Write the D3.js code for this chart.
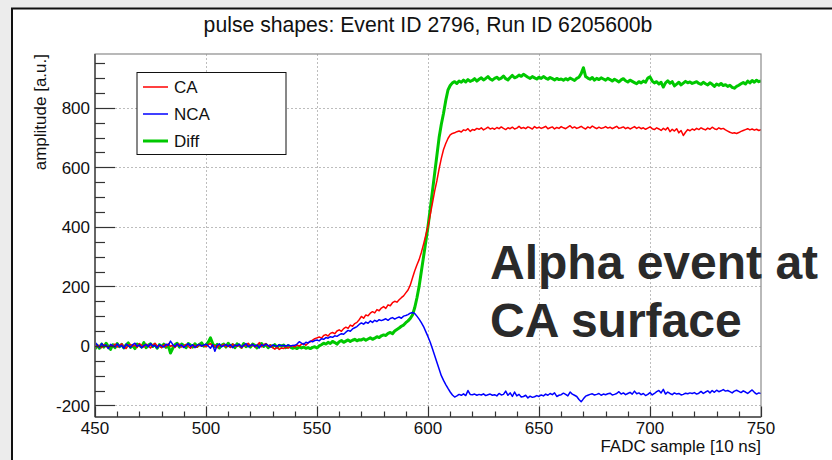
<!DOCTYPE html>
<html>
<head>
<meta charset="utf-8">
<script src="https://cdnjs.cloudflare.com/ajax/libs/d3/7.8.5/d3.min.js"></script>
<style>
  body { margin: 0; background: #ececec; }
  svg { display: block; font-family: "Liberation Sans", Arial, sans-serif; }
</style>
</head>
<body>
<div id="chart"></div>
<script>
// sample index 450..750 (one FADC sample each)
let firstSample = 450;

let caValues = [
  5, -3, 2, -6, 4, 0, -8, 3, -2, 6,
  -4, 1, 7, -3, -9, 2, 5, -1, 3, -5,
  8, 2, -4, 6, 0, -7, 3, 9, -2, 1,
  -6, 4, -3, 7, -1, 2, -5, 3, 6, -4,
  0, 5, -2, -8, 3, 1, -4, 6, -1, 2,
  -3, 4, 8, -2, 1, -6, 3, 0, 5, -3,
  2, -5, 6, 1, -2, 4, -7, 3, 0, 9,
  -1, 5, -4, 2, 11, -3, 4, 7, -2, 3,
  -6, -11, -4, -12, -7, -9, -3, -8, -2, 1,
  -4, 3, -1, 5, 8, 2, 10, 14, 19, 24,
  27, 30, 26, 35, 38, 33, 42, 45, 41, 50,
  54, 49, 58, 63, 59, 70, 66, 75, 79, 88,
  99, 93, 104, 101, 110, 115, 111, 122, 118, 127,
  132, 126, 138, 135, 145, 150, 147, 155, 162, 168,
  178, 188, 204, 228, 252, 272, 290, 314, 342, 372,
  401, 440, 480, 520, 555, 595, 630, 660, 680, 697,
  709, 714, 716, 720, 722, 719, 726, 724, 730, 721,
  727, 725, 731, 728, 733, 726, 730, 735, 729, 732,
  728, 734, 730, 736, 731, 727, 733, 730, 735, 729,
  732, 738, 731, 734, 730, 736, 733, 729, 737, 732,
  735, 731, 734, 738, 730, 733, 736, 729, 734, 731,
  737, 733, 730, 735, 740, 732, 736, 731, 734, 738,
  733, 729, 736, 732, 739, 734, 730, 735, 731, 733,
  737, 732, 735, 730, 734, 738, 731, 733, 736, 730,
  734, 729, 733, 737, 731, 735, 730, 733, 728, 732,
  736, 730, 727, 733, 729, 724, 731, 726, 734, 720,
  728, 722, 730, 716, 724, 707, 718, 727, 723, 729,
  725, 731, 727, 733, 729, 726, 732, 728, 735, 730,
  727, 733, 729, 731, 726, 722, 718, 715, 716, 714,
  717, 721, 724, 727, 730, 726, 729, 725, 728, 724,
  727
];

let ncaValues = [
  12, 4, -6, 8, -2, 3, -9, 5, 1, -4,
  7, -3, 2, -8, 6, 0, -5, 4, 9, -2,
  3, -6, 1, 5, -3, 8, -1, 2, -7, 4,
  0, -4, 6, 2, 16, 5, -3, 7, -2, 3,
  -5, 1, 8, -2, 4, -6, 2, 5, -1, 3,
  6, 0, -8, 4, -18, 2, 7, -3, 1, 5,
  -2, 4, -6, 3, 0, 6, -4, 2, 8, -3,
  1, 5, -2, 3, -7, 4, 0, 6, 2, -4,
  3, 1, -2, 4, 0, 2, -1, 3, 0, 1,
  2, 6, 14, 9, 5, 12, 10, 16, 14, 18,
  20, 17, 24, 22, 28, 26, 31, 29, 34, 32,
  37, 41, 39, 46, 52, 49, 57, 61, 65, 72,
  77, 73, 80, 76, 84, 79, 86, 82, 88, 85,
  88, 91, 86, 92, 95, 90, 94, 97, 93, 100,
  102, 105, 110, 112, 109, 100, 90, 78, 65, 48,
  31, 12, -10, -32, -55, -78, -100, -116, -130, -143,
  -155, -165, -172, -168, -163, -166, -161, -167, -150, -163,
  -164, -162, -166, -163, -165, -161, -167, -164, -162, -166,
  -164, -168, -160, -165, -163, -152, -166, -158, -170, -155,
  -168, -163, -172, -170, -166, -175, -169, -173, -171, -167,
  -170, -165, -168, -162, -166, -160, -164, -158, -170, -166,
  -164, -159, -163, -168, -155, -162, -166, -170, -180, -188,
  -178, -169, -166, -163, -161, -165, -163, -160, -166, -162,
  -164, -161, -159, -165, -163, -160, -154, -162, -158, -164,
  -160, -156, -162, -152, -161, -158, -164, -160, -167, -163,
  -157, -165, -160, -154, -150, -158, -146, -162, -155, -160,
  -164, -158, -162, -160, -165, -163, -159, -161, -158, -160,
  -157, -162, -159, -153, -160, -155, -151, -158, -150, -156,
  -149, -154, -151, -147, -152, -150, -154, -158, -152, -149,
  -153, -157, -151, -155, -160, -154, -148, -156, -162, -158,
  -160
];

let diffValues = [
  -10, 2, -8, 6, -4, 9, -2, -12, 4, -6,
  8, -3, 5, -7, 3, 10, -5, 1, -9, 6,
  2, -4, 11, -6, 3, 7, -2, 5, -8, 4,
  -3, 6, -5, 2, -24, -8, 4, 9, -4, 6,
  1, -6, 8, 3, -4, 7, -2, 5, 10, -1,
  3, 12, 27, 8, -3, 5, -7, 2, 6, -4,
  9, -2, 4, -6, 7, 1, -5, 8, -3, 5,
  -4, 6, 2, -7, 3, 8, -2, 5, -6, 1,
  -3, 4, -5, 2, -1, 3, -6, 1, -4, -8,
  -5, -9, -3, -7, -4, -8, -6, -9, -5, -3,
  -7, 0, 4, 9, 6, 12, 8, 15, 11, 6,
  14, 18, 12, 16, 20, 15, 19, 22, 17, 21,
  20, 24, 19, 23, 27, 22, 26, 31, 28, 34,
  37, 35, 42, 45, 41, 50, 55, 60, 66, 70,
  78, 84, 92, 104, 128, 161, 200, 250, 300, 350,
  401, 460, 520, 580, 640, 700, 745, 782, 825, 860,
  875, 884, 888, 882, 890, 886, 893, 887, 895, 889,
  892, 898, 890, 896, 901, 894, 899, 905, 897, 893,
  899, 903, 896, 900, 907, 898, 894, 902, 909, 901,
  904, 910, 906, 913, 908, 903, 899, 905, 901, 897,
  903, 899, 905, 900, 896, 902, 898, 894, 899, 895,
  897, 893, 898, 894, 900, 896, 892, 899, 903, 915,
  935, 905, 900, 896, 902, 893, 899, 895, 901, 897,
  893, 899, 895, 890, 896, 892, 887, 894, 898, 891,
  887, 893, 889, 885, 881, 888, 884, 890, 886, 900,
  904, 890, 884, 888, 880, 886, 870, 884, 891, 883,
  888, 874, 880, 886, 877, 883, 889, 884, 887, 882,
  885, 888, 882, 879, 886, 881, 877, 884, 879, 872,
  880, 876, 882, 875, 878, 872, 876, 869, 866, 872,
  876, 881, 885, 880, 890, 884, 892, 886, 893, 888,
  891
];

let seriesNames = ["CA", "NCA", "Diff"];
let seriesColors = ["#ff0000", "#0000ff", "#00c800"];
let seriesWidths = [1.5, 1.5, 3];
let xTicks = [450, 500, 550, 600, 650, 700, 750];
let yTicks = [-200, 0, 200, 400, 600, 800];

let titleText = "pulse shapes: Event ID 2796, Run ID 6205600b";
let xLabel = "FADC sample [10 ns]";
let yLabel = "amplitude [a.u.]";
let noteLines = ["Alpha event at", "CA surface"];

let width = 832, height = 460;
let plot = { left: 95, right: 761, top: 54, bottom: 417 };

let svg = d3.select("#chart").append("svg")
  .attr("width", width)
  .attr("height", height);

// canvas (white pad with dark border on left/top)
svg.append("rect")
  .attr("x", 0).attr("y", 0)
  .attr("width", width).attr("height", height)
  .attr("fill", "#ececec");
svg.append("rect")
  .attr("x", 12).attr("y", 8.5)
  .attr("width", width).attr("height", height)
  .attr("fill", "#fff")
  .attr("stroke", "#111")
  .attr("stroke-width", 2);

let x = d3.scaleLinear().domain([450, 750]).range([plot.left, plot.right]);
let y = d3.scaleLinear().domain([-239, 981]).range([plot.bottom, plot.top]);

// grid
let grid = svg.append("g").attr("stroke", "#bdbdbd").attr("stroke-dasharray", "2,2");
grid.selectAll(".gx")
  .data(xTicks.slice(1, -1))
  .enter().append("line")
  .attr("x1", d => x(d) + 0.5).attr("x2", d => x(d) + 0.5)
  .attr("y1", plot.top).attr("y2", plot.bottom - 10);
grid.selectAll(".gy")
  .data(yTicks)
  .enter().append("line")
  .attr("x1", plot.left + 20).attr("x2", plot.right)
  .attr("y1", d => Math.round(y(d)) + 0.5).attr("y2", d => Math.round(y(d)) + 0.5);

// clip
svg.append("clipPath").attr("id", "clip")
  .append("rect")
  .attr("x", plot.left).attr("y", plot.top)
  .attr("width", plot.right - plot.left).attr("height", plot.bottom - plot.top);

let allSeries = [caValues, ncaValues, diffValues];
let line = d3.line()
  .x((d, i) => x(firstSample + i))
  .y(d => y(d));

svg.append("g").attr("clip-path", "url(#clip)")
  .selectAll("path")
  .data([2, 0, 1])
  .enter().append("path")
  .attr("d", k => line(allSeries[k]))
  .attr("fill", "none")
  .attr("stroke", k => seriesColors[k])
  .attr("stroke-width", k => seriesWidths[k])
  .attr("stroke-linejoin", "round");

// frame
svg.append("rect")
  .attr("x", plot.left).attr("y", plot.top)
  .attr("width", plot.right - plot.left).attr("height", plot.bottom - plot.top)
  .attr("fill", "none")
  .attr("stroke", "#8a8a8a")
  .attr("stroke-width", 1.2);

// y axis
let yAxis = svg.append("g").attr("stroke", "#333");
yAxis.append("line")
  .attr("x1", plot.left).attr("x2", plot.left)
  .attr("y1", plot.top).attr("y2", plot.bottom)
  .attr("stroke", "#666").attr("stroke-width", 2);
yAxis.selectAll(".minor")
  .data(y.ticks(24).filter(d => d % 200 !== 0 && d > -239))
  .enter().append("line")
  .attr("x1", plot.left).attr("x2", plot.left + 10)
  .attr("y1", d => Math.round(y(d)) + 0.5).attr("y2", d => Math.round(y(d)) + 0.5)
  .attr("stroke-width", 1.2);
yAxis.selectAll(".major")
  .data(yTicks)
  .enter().append("line")
  .attr("x1", plot.left).attr("x2", plot.left + 20)
  .attr("y1", d => Math.round(y(d)) + 0.5).attr("y2", d => Math.round(y(d)) + 0.5)
  .attr("stroke-width", 1.2);
svg.append("g").selectAll("text")
  .data(yTicks)
  .enter().append("text")
  .attr("x", plot.left - 5)
  .attr("y", d => y(d) + 6.5)
  .attr("text-anchor", "end")
  .attr("font-size", 17)
  .attr("fill", "#111")
  .text(d => d);

// x axis
let xAxis = svg.append("g").attr("stroke", "#333");
xAxis.append("line")
  .attr("x1", plot.left).attr("x2", plot.right)
  .attr("y1", plot.bottom).attr("y2", plot.bottom)
  .attr("stroke", "#666").attr("stroke-width", 2);
xAxis.selectAll(".minor")
  .data(d3.range(450, 751, 10).filter(d => d % 50 !== 0))
  .enter().append("line")
  .attr("x1", d => Math.round(x(d)) + 0.5).attr("x2", d => Math.round(x(d)) + 0.5)
  .attr("y1", plot.bottom).attr("y2", plot.bottom - 5.5)
  .attr("stroke-width", 1.2);
xAxis.selectAll(".major")
  .data(xTicks)
  .enter().append("line")
  .attr("x1", d => Math.round(x(d)) + 0.5).attr("x2", d => Math.round(x(d)) + 0.5)
  .attr("y1", plot.bottom).attr("y2", plot.bottom - 10.5)
  .attr("stroke-width", 1.2);
svg.append("g").selectAll("text")
  .data(xTicks)
  .enter().append("text")
  .attr("x", d => x(d))
  .attr("y", 434)
  .attr("text-anchor", "middle")
  .attr("font-size", 17)
  .attr("fill", "#111")
  .text(d => d);

// axis titles
svg.append("text")
  .attr("x", plot.right).attr("y", 452)
  .attr("text-anchor", "end")
  .attr("font-size", 17)
  .attr("fill", "#111")
  .text(xLabel);
svg.append("text")
  .attr("transform", "translate(46," + plot.top + ") rotate(-90)")
  .attr("text-anchor", "end")
  .attr("font-size", 17)
  .attr("fill", "#111")
  .text(yLabel);

// title
svg.append("text")
  .attr("x", 428).attr("y", 32)
  .attr("text-anchor", "middle")
  .attr("font-size", 21.2)
  .attr("fill", "#111")
  .text(titleText);

// legend
let legend = svg.append("g");
legend.append("rect")
  .attr("x", 137).attr("y", 72.5)
  .attr("width", 149).attr("height", 82)
  .attr("fill", "#fff")
  .attr("stroke", "#111")
  .attr("stroke-width", 1);
let entries = legend.selectAll(".entry")
  .data(seriesNames)
  .enter().append("g")
  .attr("transform", (d, i) => "translate(0," + (87 + i * 27) + ")");
entries.append("line")
  .attr("x1", 143).attr("x2", 168)
  .attr("stroke", (d, i) => seriesColors[i])
  .attr("stroke-width", (d, i) => seriesWidths[i]);
entries.append("text")
  .attr("x", 174).attr("y", 6)
  .attr("font-size", 17)
  .attr("fill", "#111")
  .text(d => d);

// annotation
svg.append("g").selectAll("text")
  .data(noteLines)
  .enter().append("text")
  .attr("x", 490)
  .attr("y", (d, i) => 279 + i * 58)
  .attr("font-size", 48)
  .attr("font-weight", "bold")
  .attr("fill", "#2a2a2a")
  .text(d => d);
</script>
</body>
</html>
